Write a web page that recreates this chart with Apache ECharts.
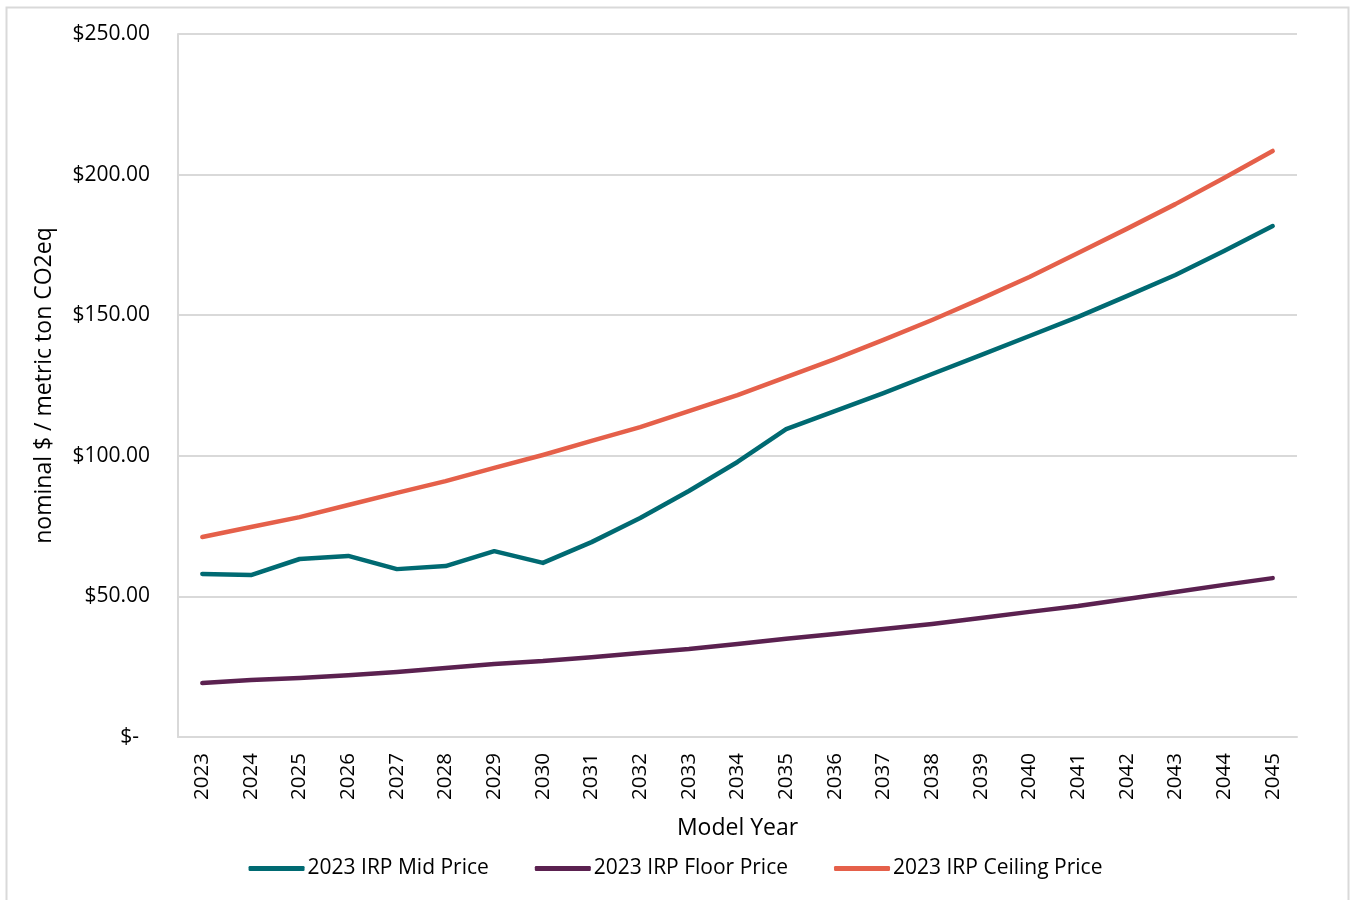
<!DOCTYPE html>
<html>
<head>
<meta charset="utf-8">
<script src="https://cdn.jsdelivr.net/npm/echarts@6/dist/echarts.min.js"></script>
<style>
  html, body { margin: 0; padding: 0; background: #fff; }
  #chart { width: 1351px; height: 900px; }
</style>
</head>
<body>
<div id="chart"></div>
<script>
// Model years on the category axis
const years = ['2023','2024','2025','2026','2027','2028','2029','2030','2031','2032','2033',
  '2034','2035','2036','2037','2038','2039','2040','2041','2042','2043','2044','2045'];

// Carbon price trajectories, nominal $ per metric ton CO2eq
const midPrice = [58.0, 57.6, 63.3, 64.4, 59.7, 60.8, 66.1, 61.9, 69.3, 77.9, 87.5,
  97.8, 109.5, 115.9, 122.3, 129.1, 135.8, 142.6, 149.4, 156.8, 164.3, 172.8, 181.7];
const floorPrice = [19.2, 20.3, 21.0, 22.0, 23.1, 24.5, 26.0, 27.0, 28.4, 29.9, 31.3,
  33.1, 34.9, 36.6, 38.4, 40.2, 42.3, 44.5, 46.6, 49.1, 51.6, 54.1, 56.5];
const ceilingPrice = [71.1, 74.7, 78.2, 82.5, 86.8, 91.0, 95.7, 100.3, 105.3, 110.2, 115.9,
  121.6, 128.0, 134.4, 141.2, 148.3, 155.8, 163.6, 172.1, 180.7, 189.5, 198.8, 208.4];

const seriesNames = ['2023 IRP Mid Price', '2023 IRP Floor Price', '2023 IRP Ceiling Price'];
const seriesColors = ['#006A72', '#5B2150', '#E5604A'];

const FONT = 'Open Sans';
const chart = echarts.init(document.getElementById('chart'), null, { renderer: 'canvas' });

function lineSeries(name, data, color) {
  return {
    name: name,
    type: 'line',
    data: data,
    symbol: 'none',
    smooth: false,
    lineStyle: { color: color, width: 4.5, cap: 'round', join: 'round' },
    itemStyle: { color: color }
  };
}

chart.setOption({
  backgroundColor: '#fff',
  animation: false,
  textStyle: { fontFamily: FONT, color: '#000' },
  graphic: [{
    type: 'rect',
    shape: { x: 6.5, y: 7.5, width: 1342, height: 900 },
    style: { fill: 'none', stroke: '#d9d9d9', lineWidth: 2 },
    silent: true
  }],
  grid: { left: 178, right: 54, top: 34, bottom: 163, containLabel: false },
  legend: {
    data: seriesNames,
    bottom: 16,
    left: 'center',
    icon: 'roundRect',
    itemWidth: 56,
    itemHeight: 5,
    itemGap: 46,
    textStyle: { fontFamily: FONT, fontSize: 21, color: '#000', padding: [0, 0, 0, -2] }
  },
  xAxis: {
    type: 'category',
    data: years,
    boundaryGap: true,
    name: 'Model Year',
    nameLocation: 'middle',
    nameGap: 80,
    nameTextStyle: { fontFamily: FONT, fontSize: 23, color: '#000' },
    axisLine: { show: true, lineStyle: { color: '#d9d9d9', width: 2 } },
    axisTick: { show: false },
    axisLabel: { rotate: 90, fontFamily: FONT, fontSize: 20.5, color: '#000', margin: 16 }
  },
  yAxis: {
    type: 'value',
    min: 0,
    max: 250,
    interval: 50,
    name: 'nominal $ / metric ton CO2eq',
    nameLocation: 'middle',
    nameGap: 122,
    nameTextStyle: { fontFamily: FONT, fontSize: 23, color: '#000' },
    axisLine: { show: true, lineStyle: { color: '#d9d9d9', width: 2 } },
    axisTick: { show: false },
    splitLine: { show: true, lineStyle: { color: '#d9d9d9', width: 2 } },
    axisLabel: {
      fontFamily: FONT, fontSize: 21, color: '#000', margin: 28,
      formatter: function (v) { return v === 0 ? '$-  ' : '$' + v.toFixed(2); }
    }
  },
  series: [
    lineSeries(seriesNames[0], midPrice, seriesColors[0]),
    lineSeries(seriesNames[1], floorPrice, seriesColors[1]),
    lineSeries(seriesNames[2], ceilingPrice, seriesColors[2])
  ]
});
</script>
</body>
</html>
